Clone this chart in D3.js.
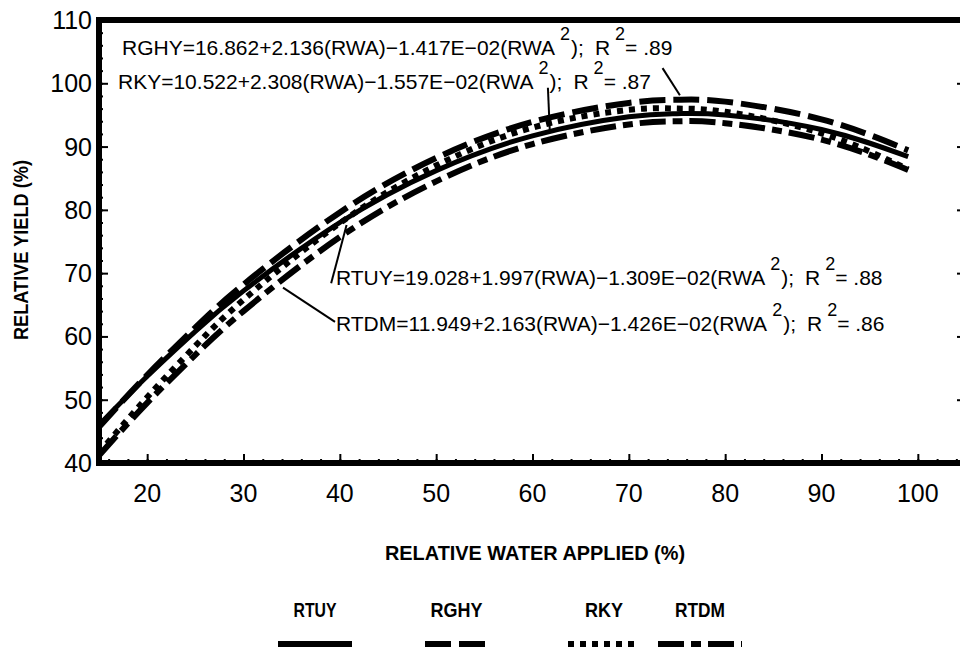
<!DOCTYPE html>
<html>
<head>
<meta charset="utf-8">
<script src="https://cdn.jsdelivr.net/npm/d3@7"></script>
<style>
  body { margin: 0; background: #fff; }
  svg { font-family: "Liberation Sans", Arial, sans-serif; }
</style>
</head>
<body>
<div id="chart"></div>
<script>
// values
var rwa  = [15, 20, 25, 30, 40, 50, 60, 70, 75, 80, 90, 99];
var rtuy = [46.0, 53.7, 60.8, 67.2, 78.0, 86.2, 91.7, 94.7, 95.2, 95.0, 92.7, 88.4];
var rghy = [45.7, 53.9, 61.4, 68.2, 79.6, 88.2, 93.9, 96.9, 97.4, 97.1, 94.3, 89.4];
var rky  = [41.6, 50.4, 58.5, 65.8, 77.9, 87.0, 93.0, 95.8, 96.0, 95.5, 92.1, 86.4];
var rtdm = [41.2, 49.5, 57.1, 64.0, 75.7, 84.5, 90.4, 93.5, 94.0, 93.7, 91.1, 86.3];

var seriesNames = ["RTUY", "RGHY", "RKY", "RTDM"];
var xTicks = [20, 30, 40, 50, 60, 70, 80, 90, 100];
var yTicks = [40, 50, 60, 70, 80, 90, 100, 110];

var eqMain = [
  "RGHY=16.862+2.136(RWA)\u22121.417E\u221202(RWA",
  "RKY=10.522+2.308(RWA)\u22121.557E\u221202(RWA",
  "RTUY=19.028+1.997(RWA)\u22121.309E\u221202(RWA",
  "RTDM=11.949+2.163(RWA)\u22121.426E\u221202(RWA"
];
var eqR2 = [".89", ".87", ".88", ".86"];
// leader lines, in data units [x1, y1, x2, y2]
var leaders = [
  [73.5, 102.4, 75.3, 98.1],
  [61.6, 99.3, 61.8, 92.3],
  [39.1, 68.4, 40.7, 77.6],
  [34.1, 67.7, 39.5, 62.3]
];

var W = 960, H = 649;

var svg = d3.select("#chart")
    .append("svg")
    .attr("width", W)
    .attr("height", H);

var x = d3.scaleLinear().domain([15, 105]).range([99, 966]);
var y = d3.scaleLinear().domain([40, 110]).range([463, 20]);

// clip so curves stay inside the frame
svg.append("clipPath").attr("id", "plotClip")
    .append("rect")
    .attr("x", x(15)).attr("y", y(110))
    .attr("width", x(105) - x(15)).attr("height", y(40) - y(110));

// minor ticks every 2 units, inward
var xMinor = d3.range(16, 105, 2);
var yMinor = d3.range(42, 110, 2);

svg.append("g")
    .attr("transform", "translate(0," + y(40) + ")")
    .call(d3.axisTop(x).tickValues(xMinor).tickSize(4).tickFormat(""))
    .call(function (g) { g.select(".domain").remove(); })
    .selectAll("line").attr("stroke-width", 2);

svg.append("g")
    .attr("transform", "translate(" + x(15) + ",0)")
    .call(d3.axisRight(y).tickValues(yMinor).tickSize(4).tickFormat(""))
    .call(function (g) { g.select(".domain").remove(); })
    .selectAll("line").attr("stroke-width", 2);

// major ticks inward
svg.append("g")
    .attr("transform", "translate(0," + y(40) + ")")
    .call(d3.axisTop(x).tickValues(xTicks).tickSize(9).tickFormat(""))
    .call(function (g) { g.select(".domain").remove(); })
    .selectAll("line").attr("stroke-width", 2);

svg.append("g")
    .attr("transform", "translate(" + x(15) + ",0)")
    .call(d3.axisRight(y).tickValues(yTicks).tickSize(9).tickFormat(""))
    .call(function (g) { g.select(".domain").remove(); })
    .selectAll("line").attr("stroke-width", 2);

// right axis ticks (frame itself is outside the picture)
svg.append("g")
    .attr("transform", "translate(" + x(105) + ",0)")
    .call(d3.axisLeft(y).tickValues(yTicks).tickSize(9).tickFormat(""))
    .call(function (g) { g.select(".domain").remove(); })
    .selectAll("line").attr("stroke-width", 2);

// tick labels
svg.append("g").selectAll("text")
    .data(xTicks)
    .enter().append("text")
    .attr("x", function (d) { return x(d); })
    .attr("y", 502)
    .attr("text-anchor", "middle")
    .attr("font-size", 25)
    .text(function (d) { return d; });

svg.append("g").selectAll("text")
    .data(yTicks)
    .enter().append("text")
    .attr("x", 92)
    .attr("y", function (d) { return y(d) + 9; })
    .attr("text-anchor", "end")
    .attr("font-size", 25)
    .text(function (d) { return d; });

// frame
svg.append("path")
    .attr("d", "M" + x(105) + "," + y(110) + "H" + x(15) + "V" + y(40) + "H" + x(105))
    .attr("fill", "none")
    .attr("stroke", "#000")
    .attr("stroke-width", 6)
    .attr("stroke-linecap", "square");

// axis titles (condensed, like the original lettering)
svg.append("text")
    .attr("x", 385)
    .attr("y", 560)
    .attr("font-size", 20)
    .attr("font-weight", "bold")
    .attr("textLength", 300)
    .attr("lengthAdjust", "spacingAndGlyphs")
    .text("RELATIVE WATER APPLIED (%)");

svg.append("text")
    .attr("transform", "translate(28,340) rotate(-90)")
    .attr("font-size", 20)
    .attr("font-weight", "bold")
    .attr("textLength", 180)
    .attr("lengthAdjust", "spacingAndGlyphs")
    .text("RELATIVE YIELD (%)");

// curves
var styles = [
  { dash: null, width: 5 },
  { dash: "26,8", width: 6 },
  { dash: "6,6", width: 6 },
  { dash: "26,7,10,7", width: 6 }
];
var allSeries = [rtuy, rghy, rky, rtdm];

var line = d3.line()
    .x(function (d) { return x(d[0]); })
    .y(function (d) { return y(d[1]); })
    .curve(d3.curveNatural);

var curves = svg.append("g").attr("clip-path", "url(#plotClip)");
allSeries.forEach(function (vals, i) {
    var pts = rwa.map(function (r, j) { return [r, vals[j]]; });
    curves.append("path")
        .datum(pts)
        .attr("fill", "none")
        .attr("stroke", "#000")
        .attr("stroke-width", styles[i].width)
        .attr("stroke-dasharray", styles[i].dash)
        .attr("d", line);
});

// equation labels
var eqPos = [[122, 55], [118, 89], [336, 285], [336, 331]];
eqMain.forEach(function (s, i) {
    var t = svg.append("text")
        .attr("x", eqPos[i][0])
        .attr("y", eqPos[i][1])
        .attr("font-size", 21);
    t.append("tspan").text(s);
    t.append("tspan").attr("dx", 5).attr("dy", -15).attr("font-size", 18).text("2");
    t.append("tspan").attr("dx", 1).attr("dy", 15).text(");");
    t.append("tspan").attr("dx", 11).text("R");
    t.append("tspan").attr("dx", 5).attr("dy", -15).attr("font-size", 18).text("2");
    t.append("tspan").attr("dy", 15).text("= " + eqR2[i]);
});

svg.append("g").selectAll("line")
    .data(leaders)
    .enter().append("line")
    .attr("x1", function (d) { return x(d[0]); })
    .attr("y1", function (d) { return y(d[1]); })
    .attr("x2", function (d) { return x(d[2]); })
    .attr("y2", function (d) { return y(d[3]); })
    .attr("stroke", "#000")
    .attr("stroke-width", 2);

// legend
var legX = [[278, 352], [425, 488], [568, 640], [658, 742]];
var legW = [43, 52, 38, 50];
var legend = svg.append("g");
seriesNames.forEach(function (name, i) {
    var cx = (legX[i][0] + legX[i][1]) / 2;
    legend.append("text")
        .attr("x", cx - legW[i] / 2)
        .attr("y", 617)
        .attr("font-size", 21)
        .attr("font-weight", "bold")
        .attr("textLength", legW[i])
        .attr("lengthAdjust", "spacingAndGlyphs")
        .text(name);
    legend.append("line")
        .attr("x1", legX[i][0])
        .attr("x2", legX[i][1])
        .attr("y1", 644)
        .attr("y2", 644)
        .attr("stroke", "#000")
        .attr("stroke-width", 6)
        .attr("stroke-dasharray", styles[i].dash);
});
</script>
</body>
</html>
